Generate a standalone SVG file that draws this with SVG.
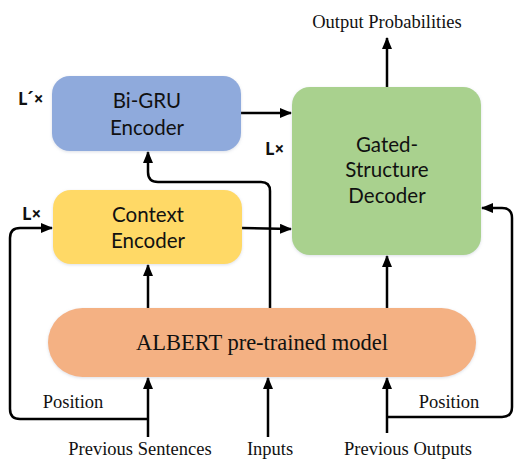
<svg xmlns="http://www.w3.org/2000/svg" width="514" height="459" viewBox="0 0 514 459">
  <defs>
    <marker id="arrow" viewBox="0 0 12 10" refX="11" refY="5" markerWidth="12" markerHeight="10" markerUnits="userSpaceOnUse" orient="auto">
      <path d="M0,0 L12,5 L0,10 Z" fill="#000"/>
    </marker>
    <filter id="soft" x="-10%" y="-10%" width="120%" height="120%">
      <feGaussianBlur in="SourceAlpha" stdDeviation="1.5"/>
      <feOffset dx="0" dy="1" result="b"/>
      <feFlood flood-color="#9aa4b8" flood-opacity="0.35"/>
      <feComposite in2="b" operator="in"/>
      <feMerge><feMergeNode/><feMergeNode in="SourceGraphic"/></feMerge>
    </filter>
  </defs>
  <style>
    .box { filter: url(#soft); }
    .sans { font-family: Lato, "Open Sans", "DejaVu Sans", sans-serif; font-size: 20.5px; fill: #111; text-anchor: middle; }
    .serif { font-family: "Liberation Serif", "Times New Roman", serif; font-size: 18.5px; fill: #111; text-anchor: middle; }
    .rep { font-family: "Open Sans", "Liberation Sans", Arial, sans-serif; font-size: 17px; font-weight: bold; fill: #111; }
    .conn { fill: none; stroke: #000; stroke-width: 2.5; }
    .conn.arr { marker-end: url(#arrow); }
  </style>

  <!-- connectors -->
  <g id="connectors">
    <line class="conn arr" x1="387" y1="87" x2="387" y2="38"/>
    <line class="conn arr" x1="241" y1="113" x2="291" y2="113"/>
    <line class="conn arr" x1="242" y1="228" x2="291" y2="229"/>
    <path class="conn arr" d="M270,308 V191 Q270,182 261,182 H158 Q148,182 148,172 V152"/>
    <line class="conn arr" x1="148" y1="308" x2="148" y2="265"/>
    <line class="conn arr" x1="387" y1="308" x2="387" y2="256"/>
    <line class="conn arr" x1="148" y1="437" x2="148" y2="378"/>
    <line class="conn arr" x1="268" y1="437" x2="268" y2="378"/>
    <line class="conn arr" x1="387" y1="433" x2="387" y2="378"/>
    <path class="conn arr" d="M148,419 H20 Q10,419 10,409 V238 Q10,228 20,228 H52"/>
    <path class="conn arr" d="M387,417 H502 Q512,417 512,407 V218 Q512,208 502,208 H482"/>
  </g>

  <g id="bigru">
    <rect class="box" x="52" y="76" width="189" height="75" rx="18" fill="#8faadc"/>
    <text class="sans" x="147" y="108">Bi-GRU</text>
    <text class="sans" x="147" y="135">Encoder</text>
    <text class="rep" x="18" y="105">L´×</text>
  </g>

  <g id="context">
    <rect class="box" x="53" y="190" width="189" height="74" rx="18" fill="#ffd966"/>
    <text class="sans" x="148" y="222">Context</text>
    <text class="sans" x="148" y="248">Encoder</text>
    <text class="rep" x="22" y="220">L×</text>
  </g>

  <g id="decoder">
    <rect class="box" x="292" y="87" width="189" height="168" rx="18" fill="#a9d18e"/>
    <text class="sans" x="387" y="152">Gated-</text>
    <text class="sans" x="387" y="177">Structure</text>
    <text class="sans" x="387" y="203">Decoder</text>
    <text class="rep" x="265" y="155">L×</text>
  </g>

  <g id="albert">
    <rect class="box" x="48" y="308" width="428" height="69" rx="34.5" fill="#f4b183"/>
    <text class="serif" x="262" y="350" style="font-size:22.5px">ALBERT pre-trained model</text>
  </g>

  <g id="labels">
    <text class="serif" x="387" y="28">Output Probabilities</text>
    <text class="serif" x="73" y="408">Position</text>
    <text class="serif" x="449" y="408">Position</text>
    <text class="serif" x="140" y="455">Previous Sentences</text>
    <text class="serif" x="270" y="455">Inputs</text>
    <text class="serif" x="408" y="455">Previous Outputs</text>
  </g>
</svg>
